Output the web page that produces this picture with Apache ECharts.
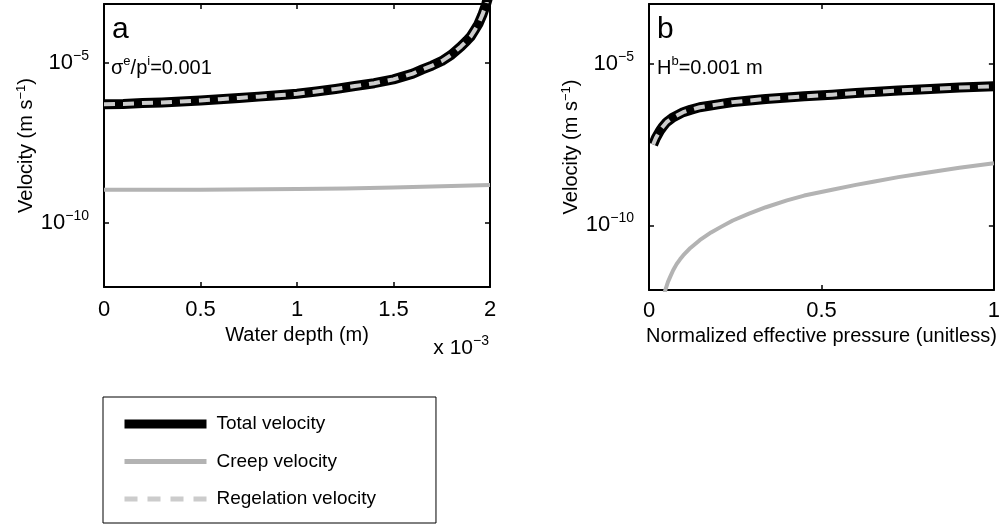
<!DOCTYPE html>
<html><head><meta charset="utf-8">
<script src="https://cdn.jsdelivr.net/npm/echarts@6/dist/echarts.min.js"></script>
<style>html,body{margin:0;padding:0;background:#fff}#c{width:1003px;height:524px}</style>
</head><body><div id="c"></div>
<script>
const FONT = "'Liberation Sans', Arial, Helvetica, sans-serif";

// Panel a: water depth (x 10^-3 m)
const depthX = [0, 0.1, 0.2, 0.3, 0.4, 0.5, 0.6, 0.7, 0.8, 0.9, 1.0, 1.1, 1.2, 1.3, 1.4, 1.5, 1.6, 1.65, 1.7, 1.75, 1.8, 1.85, 1.88, 1.9, 1.92, 1.94, 1.95, 1.96, 1.97, 1.98, 1.99];
const depthTotal = [5.13e-7, 5.25e-7, 5.62e-7, 5.89e-7, 6.31e-7, 6.76e-7, 7.41e-7, 8.13e-7, 8.91e-7, 9.77e-7, 1.10e-6, 1.29e-6, 1.55e-6, 1.91e-6, 2.34e-6, 3.09e-6, 4.68e-6, 6.31e-6, 8.32e-6, 1.15e-5, 1.82e-5, 3.31e-5, 5.01e-5, 6.76e-5, 1.05e-4, 1.66e-4, 2.29e-4, 3.16e-4, 4.68e-4, 6.92e-4, 1.12e-3];
const depthRegelation = [5.13e-7, 5.25e-7, 5.62e-7, 5.89e-7, 6.31e-7, 6.76e-7, 7.41e-7, 8.13e-7, 8.91e-7, 9.77e-7, 1.10e-6, 1.29e-6, 1.55e-6, 1.91e-6, 2.34e-6, 3.09e-6, 4.68e-6, 6.31e-6, 8.32e-6, 1.15e-5, 1.82e-5, 3.31e-5, 5.01e-5, 6.76e-5, 1.05e-4, 1.66e-4, 2.29e-4, 3.16e-4, 4.68e-4, 6.92e-4, 1.12e-3];
const depthCreepX = [0, 0.5, 1.0, 1.25, 1.5, 1.75, 2.0];
const depthCreep = [1.10e-9, 1.10e-9, 1.15e-9, 1.20e-9, 1.29e-9, 1.40e-9, 1.55e-9];

// Panel b: normalized effective pressure
const pressureX = [0.012, 0.02, 0.032, 0.04, 0.051, 0.07, 0.099, 0.12, 0.147, 0.2, 0.243, 0.3, 0.339, 0.4, 0.45, 0.531, 0.6, 0.65, 0.723, 0.8, 0.9, 1.0];
const pressureTotal = [3.16e-8, 5.01e-8, 8.51e-8, 1.12e-7, 1.55e-7, 2.19e-7, 3.16e-7, 3.72e-7, 4.47e-7, 5.5e-7, 6.46e-7, 7.41e-7, 8.13e-7, 8.91e-7, 9.77e-7, 1.10e-6, 1.23e-6, 1.32e-6, 1.48e-6, 1.62e-6, 1.82e-6, 2.0e-6];
const pressureRegelation = [3.16e-8, 5.01e-8, 8.51e-8, 1.12e-7, 1.55e-7, 2.19e-7, 3.16e-7, 3.72e-7, 4.47e-7, 5.5e-7, 6.46e-7, 7.41e-7, 8.13e-7, 8.91e-7, 9.77e-7, 1.10e-6, 1.23e-6, 1.32e-6, 1.48e-6, 1.62e-6, 1.82e-6, 2.0e-6];
const pressureCreepX = [0.04, 0.048, 0.055, 0.062, 0.07, 0.08, 0.09, 0.099, 0.12, 0.147, 0.18, 0.21, 0.243, 0.29, 0.339, 0.4, 0.45, 0.531, 0.6, 0.65, 0.723, 0.8, 0.9, 1.0];
const pressureCreep = [5.0e-13, 1.05e-12, 1.78e-12, 2.63e-12, 4.07e-12, 6.31e-12, 8.91e-12, 1.17e-11, 2.0e-11, 3.47e-11, 6.03e-11, 9.12e-11, 1.41e-10, 2.29e-10, 3.63e-10, 5.89e-10, 8.32e-10, 1.26e-9, 1.78e-9, 2.24e-9, 3.09e-9, 4.17e-9, 6.03e-9, 8.32e-9];

const velocityTicks = [1e-10, 1e-5];
const yMin = 1e-12, yMax = 7e-4;
const names = ['Total velocity', 'Creep velocity', 'Regelation velocity'];

const pairs = (xs, ys) => xs.map((x, i) => [x, ys[i]]);

const supRich = {
  b: { fontSize: 22, lineHeight: 28, fontFamily: FONT, color: '#000' },
  s: { fontSize: 14, lineHeight: 8, verticalAlign: 'top', fontFamily: FONT, color: '#000' }
};
const expFmt = v => { const e = Math.round(Math.log10(v)); return '{b|10}{s|' + (e < 0 ? '\u2212' : '') + Math.abs(e) + '}'; };

function xAxes(grid, max, name, gap, margin) {
  const common = {
    gridIndex: grid, type: 'value', min: 0, max: max, interval: 0.5,
    axisLine: { show: true, onZero: false, lineStyle: { color: '#000', width: 2 } },
    axisTick: { show: true, inside: true, length: 5, lineStyle: { color: '#000', width: 1.5 } },
    splitLine: { show: false }
  };
  return [
    Object.assign({}, common, {
      position: 'bottom',
      axisLabel: { show: true, margin: margin, fontSize: 22, fontFamily: FONT, color: '#000',
        formatter: v => String(v) },
      name: name, nameLocation: 'middle', nameGap: gap,
      nameTextStyle: { fontSize: 20, fontFamily: FONT, color: '#000' }
    }),
    Object.assign({}, common, { position: 'top', axisLabel: { show: false } })
  ];
}
function yAxes(grid) {
  const common = {
    gridIndex: grid, type: 'log', logBase: 10, min: yMin, max: yMax,
    axisLine: { show: true, onZero: false, lineStyle: { color: '#000', width: 2 } },
    axisTick: { show: true, inside: true, length: 5, customValues: velocityTicks, lineStyle: { color: '#000', width: 1.5 } },
    splitLine: { show: false }, minorTick: { show: false }
  };
  return [
    Object.assign({}, common, {
      position: 'left',
      axisLabel: { show: true, margin: 15, customValues: velocityTicks, formatter: expFmt, rich: supRich },
      name: '{a|Velocity (m s}{s|\u22121}{a|)}', nameLocation: 'middle', nameRotate: 90, nameGap: 67,
      nameTextStyle: { rich: {
        a: { fontSize: 20, lineHeight: 22, fontFamily: FONT, color: '#000' },
        s: { fontSize: 13, lineHeight: 8, verticalAlign: 'top', fontFamily: FONT, color: '#000' }
      } }
    }),
    Object.assign({}, common, { position: 'right', axisLabel: { show: false } })
  ];
}

function panelSeries(xi, yi, tx, ty, cx, cy, rx, ry) {
  return [
    { name: names[0], type: 'line', xAxisIndex: xi, yAxisIndex: yi, data: pairs(tx, ty),
      symbol: 'none', smooth: false, clip: true, z: 2,
      lineStyle: { color: '#000', width: 10, join: 'round' } },
    { name: names[1], type: 'line', xAxisIndex: xi, yAxisIndex: yi, data: pairs(cx, cy),
      symbol: 'none', smooth: false, clip: true, z: 3,
      lineStyle: { color: '#b3b3b3', width: 4, join: 'round' } },
    { name: names[2], type: 'line', xAxisIndex: xi, yAxisIndex: yi, data: pairs(rx, ry),
      symbol: 'none', smooth: false, clip: true, z: 4,
      lineStyle: { color: '#cccccc', width: 4, type: [11, 8], join: 'round' } }
  ];
}

const chart = echarts.init(document.getElementById('c'), null, { renderer: 'canvas' });
chart.setOption({
  animation: false,
  backgroundColor: '#fff',
  grid: [
    { left: 104, top: 4, width: 386, height: 283 },
    { left: 649, top: 4, width: 347, height: 286 }
  ],
  xAxis: [].concat(xAxes(0, 2, 'Water depth (m)', 35, 12), xAxes(1, 1, 'Normalized effective pressure (unitless)', 32, 10)),
  yAxis: [].concat(yAxes(0), yAxes(1)),
  legend: {
    left: 103, top: 397, orient: 'vertical', itemWidth: 82, itemHeight: 14, itemGap: 17.5,
    padding: [17, 60, 14, 17], borderColor: '#000', borderWidth: 1, selectedMode: false,
    textStyle: { fontSize: 19, lineHeight: 20, fontFamily: FONT, color: '#000', padding: [0, 0, 0, 5] },
    data: [
      { name: names[0], itemStyle: { opacity: 0 }, lineStyle: { width: 9, color: '#000' } },
      { name: names[1], itemStyle: { opacity: 0 }, lineStyle: { width: 5, color: '#b3b3b3' } },
      { name: names[2], itemStyle: { opacity: 0 }, lineStyle: { width: 5, color: '#cccccc', type: [13, 10] } }
    ]
  },
  graphic: [
    { type: 'text', x: 112, y: 30, style: { text: 'a', fontSize: 30, fontFamily: FONT, fill: '#000', verticalAlign: 'middle' } },
    { type: 'text', x: 657, y: 30, style: { text: 'b', fontSize: 30, fontFamily: FONT, fill: '#000', verticalAlign: 'middle' } },
    { type: 'text', x: 111, y: 68, style: { text: '{m|\u03c3}{s|e}{m|/p}{s|i}{m|=0.001}', verticalAlign: 'middle',
        rich: { m: { fontSize: 20, lineHeight: 26, fontFamily: FONT, color: '#000' },
                s: { fontSize: 13, lineHeight: 8, verticalAlign: 'top', fontFamily: FONT, color: '#000' } } } },
    { type: 'text', x: 657, y: 68, style: { text: '{m|H}{s|b}{m|=0.001 m}', verticalAlign: 'middle',
        rich: { m: { fontSize: 20, lineHeight: 26, fontFamily: FONT, color: '#000' },
                s: { fontSize: 13, lineHeight: 8, verticalAlign: 'top', fontFamily: FONT, color: '#000' } } } },
    { type: 'text', x: 489, y: 348, style: { text: '{b|x 10}{s|\u22123}', align: 'right', verticalAlign: 'middle',
        rich: { b: { fontSize: 21, lineHeight: 28, fontFamily: FONT, color: '#000' },
                s: { fontSize: 14, lineHeight: 8, verticalAlign: 'top', fontFamily: FONT, color: '#000' } } } }
  ],
  series: [].concat(
    panelSeries(0, 0, depthX, depthTotal, depthCreepX, depthCreep, depthX, depthRegelation),
    panelSeries(2, 2, pressureX, pressureTotal, pressureCreepX, pressureCreep, pressureX, pressureRegelation)
  )
});
</script></body></html>
